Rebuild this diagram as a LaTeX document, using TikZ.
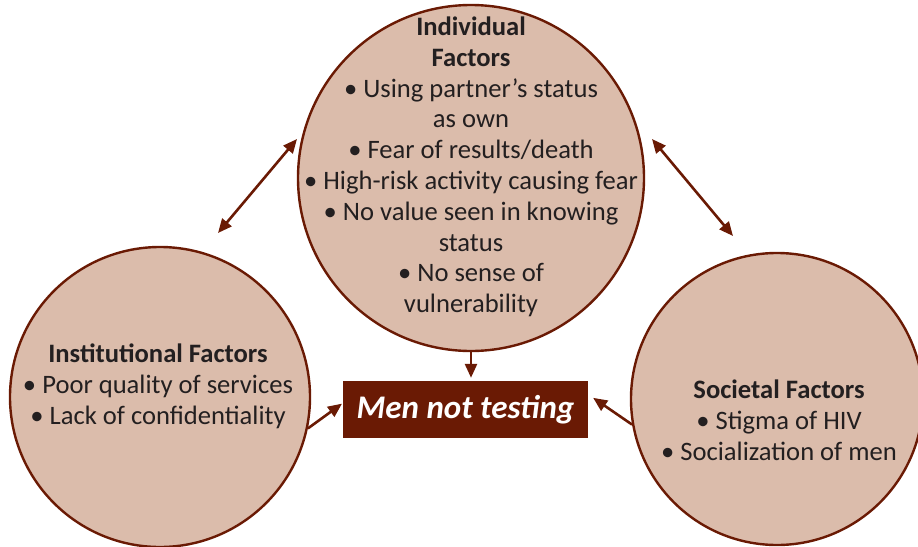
\documentclass[tikz,border=0pt]{standalone}
\usepackage{fontspec}
\setmainfont{Carlito}
\usetikzlibrary{arrows.meta}
\definecolor{circfill}{HTML}{DBBCAB}
\definecolor{brick}{HTML}{6A1A04}
\definecolor{txt}{HTML}{231F20}
\begin{document}
\begin{tikzpicture}[x=1pt,y=-1pt,
  factor/.style={circle, draw=brick, line width=2.4pt, fill=circfill, inner sep=0pt},
  ftext/.style={align=center, text=txt, font=\fontsize{26.6}{30.8}\selectfont, inner sep=0pt},
  tip/.tip={Triangle[length=14pt,width=12pt]},
  arr/.style={draw=brick, line width=2.6pt, -tip},
  darr/.style={draw=brick, line width=2.6pt, tip-tip}]
\useasboundingbox (0,0) rectangle (918,546);
\node[factor, minimum size=346pt] (ind) at (471,178) {};
\node[factor, minimum size=300pt] (inst) at (160,397) {};
\node[factor, minimum size=292pt] (soc) at (777,399) {};
\node[ftext] (indt) at (471,167) {\textbf{Individual}\\\textbf{Factors}\\• Using partner’s status\\as own\\• Fear of results/death\\• High-risk activity causing fear\\• No value seen in knowing\\status\\• No sense of\\vulnerability};
\node[ftext] (instt) at (158,386) {\textbf{Institutional Factors}\\• Poor quality of services\\• Lack of confidentiality};
\node[ftext] (soct) at (779,420) {\textbf{Societal Factors}\\• Stigma of HIV\\• Socialization of men};
\node[fill=brick, minimum width=245pt, minimum height=57pt, inner sep=0pt, text=white,
  font=\fontsize{33}{34}\selectfont\bfseries\itshape] (box) at (465.5,409.5) {Men not testing};
\coordinate (a1) at (297,139);
\coordinate (a2) at (218,233);
\coordinate (b1) at (652,139);
\coordinate (b2) at (733,236);
\draw[darr] (a2) -- (a1);
\draw[darr] (b1) -- (b2);
\draw[arr, shorten >=3pt] (ind.south) -- (ind.south |- box.north);
\draw[arr, shorten >=1pt] (inst.-12) -- (box.177);
\draw[arr, shorten >=6pt] (soc.190) -- (box.7);
\end{tikzpicture}
\end{document}
